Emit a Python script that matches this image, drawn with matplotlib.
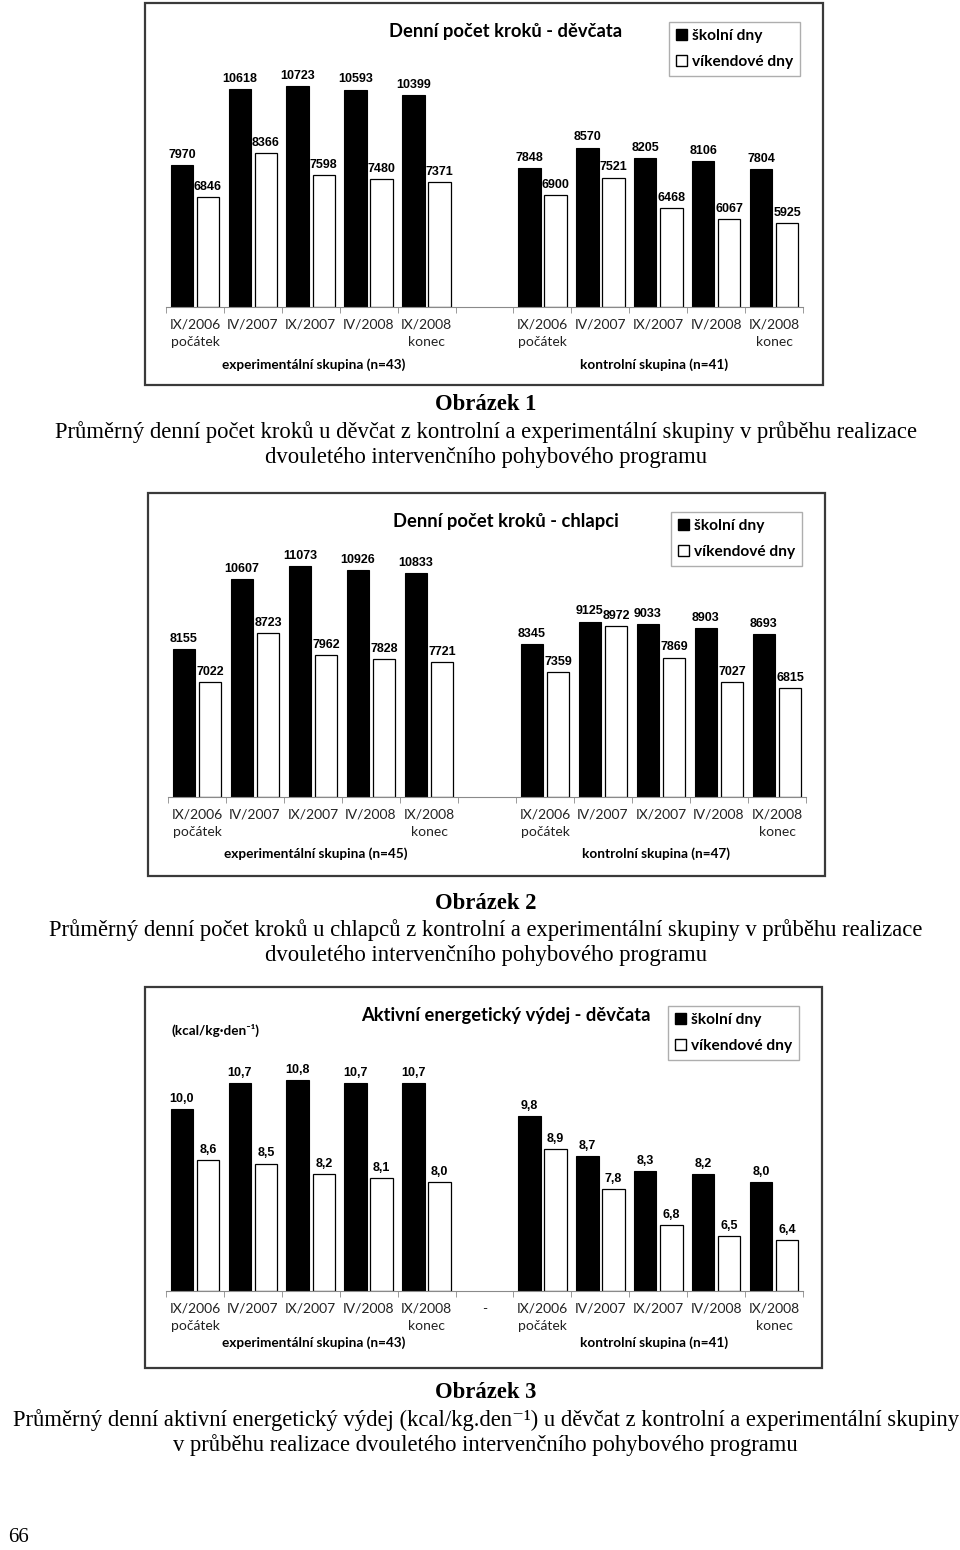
import matplotlib.pyplot as plt
from matplotlib.patches import Rectangle, Patch

W, H = 960, 1550

obdobi = ["IX/2006\npočátek", "IV/2007", "IX/2007", "IV/2008", "IX/2008\nkonec"]

# Obrázek 1 - denní počet kroků, děvčata
divky_exp_skolni = [7970, 10618, 10723, 10593, 10399]
divky_exp_vikend = [6846, 8366, 7598, 7480, 7371]
divky_kon_skolni = [7848, 8570, 8205, 8106, 7804]
divky_kon_vikend = [6900, 7521, 6468, 6067, 5925]

# Obrázek 2 - denní počet kroků, chlapci
chlapci_exp_skolni = [8155, 10607, 11073, 10926, 10833]
chlapci_exp_vikend = [7022, 8723, 7962, 7828, 7721]
chlapci_kon_skolni = [8345, 9125, 9033, 8903, 8693]
chlapci_kon_vikend = [7359, 8972, 7869, 7027, 6815]

# Obrázek 3 - aktivní energetický výdej, děvčata
energie_exp_skolni = [10.0, 10.7, 10.8, 10.7, 10.7]
energie_exp_vikend = [8.6, 8.5, 8.2, 8.1, 8.0]
energie_kon_skolni = [9.8, 8.7, 8.3, 8.2, 8.0]
energie_kon_vikend = [8.9, 7.8, 6.8, 6.5, 6.4]

popisky = [
    ("Obrázek 1",
     "Průměrný denní počet kroků u děvčat z kontrolní a experimentální skupiny v průběhu realizace",
     "dvouletého intervenčního pohybového programu"),
    ("Obrázek 2",
     "Průměrný denní počet kroků u chlapců z kontrolní a experimentální skupiny v průběhu realizace",
     "dvouletého intervenčního pohybového programu"),
    ("Obrázek 3",
     "Průměrný denní aktivní energetický výdej (kcal/kg.den⁻¹) u děvčat z kontrolní a experimentální skupiny",
     "v průběhu realizace dvouletého intervenčního pohybového programu"),
]

SANS = ["Lato", "DejaVu Sans"]
SERIF = ["Liberation Serif", "DejaVu Serif"]


def fx(x):
    return x / W


def fy(y):
    return 1 - y / H


fig = plt.figure(figsize=(W / 100, H / 100), dpi=100)


def graf(box, osa, nadpis, skolni_exp, vikend_exp, skolni_kon, vikend_kon,
         ylim, fmt, n_exp, n_kon, y_skup, pomlcka=False, jednotka=False):
    bx0, by0, bx1, by1 = box
    fig.patches.append(Rectangle((fx(bx0), fy(by1)), fx(bx1 - bx0), (by1 - by0) / H,
                                 transform=fig.transFigure, fill=False,
                                 edgecolor="#3a3a3a", lw=1.6))
    ax0, ax1 = osa
    base = by0 + 304
    top = base - 292
    ax = fig.add_axes([fx(ax0), fy(base), fx(ax1 - ax0), (base - top) / H])
    ax.patch.set_alpha(0)

    skolni = skolni_exp + [None] + skolni_kon
    vikend = vikend_exp + [None] + vikend_kon
    for i, (s, v) in enumerate(zip(skolni, vikend)):
        if s is None:
            continue
        ax.bar(i - 0.225, s - ylim[0], bottom=ylim[0], width=0.39, color="black",
               edgecolor="black", lw=0.8)
        ax.bar(i + 0.225, v - ylim[0], bottom=ylim[0], width=0.39, color="white",
               edgecolor="black", lw=0.9)
        for xx, val in ((i - 0.225, s), (i + 0.225, v)):
            ax.annotate(fmt(val), (xx, val), xytext=(0, 3), textcoords="offset points",
                        ha="center", va="bottom", fontsize=9, fontweight="bold",
                        family=["Liberation Sans", "DejaVu Sans"])

    ax.set_xlim(-0.5, 10.5)
    ax.set_ylim(*ylim)
    for sp in ("top", "right", "left"):
        ax.spines[sp].set_visible(False)
    ax.spines["bottom"].set_color("#8a8a8a")
    ax.set_yticks([])
    ax.set_xticks(range(11))
    ax.set_xticklabels(obdobi + (["-"] if pomlcka else [""]) + obdobi,
                       fontsize=10, family=SANS, color="#222222", linespacing=1.5)
    ax.tick_params(axis="x", which="major", length=0, pad=8.5)
    ax.set_xticks([i - 0.5 for i in range(12)], minor=True)
    ax.tick_params(axis="x", which="minor", length=4.5, color="#8a8a8a", direction="out")

    fig.text(fx(506), fy(by0 + 29), nadpis, ha="center", va="center",
             fontsize=13.2, fontweight="bold", family=SANS)
    fig.text(fx(ax0 + 148), fy(by0 + y_skup), f"experimentální skupina (n={n_exp})",
             ha="center", va="center", fontsize=9.8, fontweight="bold", family=SANS)
    fig.text(fx(ax0 + 488), fy(by0 + y_skup), f"kontrolní skupina (n={n_kon})",
             ha="center", va="center", fontsize=9.8, fontweight="bold", family=SANS)
    if jednotka:
        fig.text(fx(172), fy(by0 + 43), "(kcal/kg·den⁻¹)", ha="left", va="center",
                 fontsize=9.7, fontweight="bold", family=SANS)

    ruce = [Patch(facecolor="black", edgecolor="black"),
            Patch(facecolor="white", edgecolor="black")]
    leg = fig.legend(ruce, ["školní dny", "víkendové dny"], loc="upper left",
                     bbox_to_anchor=(fx(bx1 - 154), fy(by0 + 19)),
                     prop={"family": SANS, "weight": "bold", "size": 11.2},
                     frameon=True, fancybox=False, edgecolor="#9a9a9a",
                     handlelength=0.7, handleheight=0.7, handletextpad=0.3,
                     labelspacing=0.75, borderpad=0.45, borderaxespad=0)
    leg.get_frame().set_linewidth(1.0)


def popisek(y, radky):
    fig.text(0.506, fy(y), radky[0], ha="center", va="center", fontsize=16.3,
             fontweight="bold", family=SERIF)
    fig.text(0.506, fy(y + 27), radky[1], ha="center", va="center", fontsize=16.3,
             family=SERIF)
    fig.text(0.506, fy(y + 52), radky[2], ha="center", va="center", fontsize=16.3,
             family=SERIF)


kroky = lambda v: f"{v:d}"
desetiny = lambda v: f"{v:.1f}".replace(".", ",")

graf((145, 3, 823, 385), (166, 803), "Denní počet kroků - děvčata",
     divky_exp_skolni, divky_exp_vikend, divky_kon_skolni, divky_kon_vikend,
     (3000, 13200), kroky, 43, 41, 362)
graf((148, 493, 825, 876), (168, 806), "Denní počet kroků - chlapci",
     chlapci_exp_skolni, chlapci_exp_vikend, chlapci_kon_skolni, chlapci_kon_vikend,
     (3000, 13200), kroky, 45, 47, 361)
graf((145, 987, 822, 1368), (166, 803), "Aktivní energetický výdej - děvčata",
     energie_exp_skolni, energie_exp_vikend, energie_kon_skolni, energie_kon_vikend,
     (5, 13.02), desetiny, 43, 41, 356, pomlcka=True, jednotka=True)

popisek(405, popisky[0])
popisek(903, popisky[1])
popisek(1393, popisky[2])

fig.text(fx(8), fy(1538), "66", ha="left", va="center", fontsize=15, family=SERIF)

fig.savefig("out.png", dpi=100, facecolor="white")
